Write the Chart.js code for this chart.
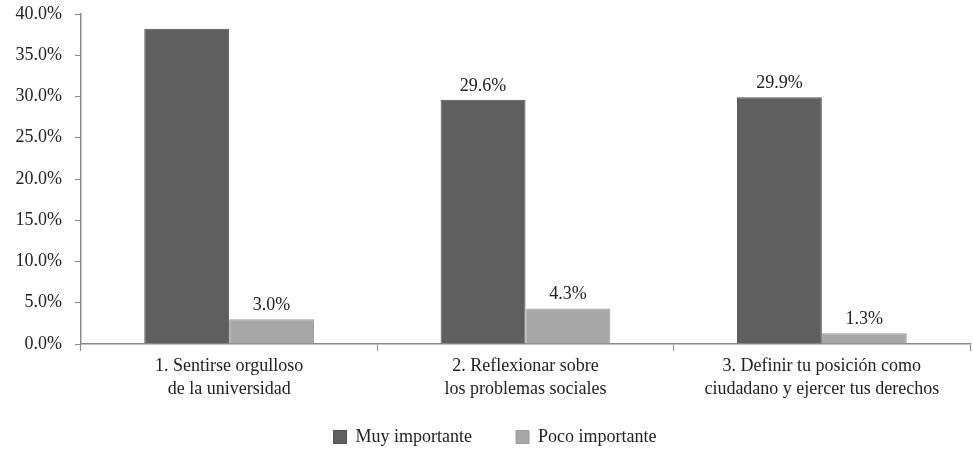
<!DOCTYPE html>
<html>
<head>
<meta charset="utf-8">
<script src="https://cdn.jsdelivr.net/npm/chart.js@4/dist/chart.umd.min.js"></script>
<style>
  html, body { margin: 0; padding: 0; background: #fff; }
  #wrap { width: 973px; height: 456px; position: relative; }
</style>
</head>
<body>
<div id="wrap"><canvas id="chart"></canvas></div>
<script>
const categories = [
  ['1. Sentirse orgulloso', 'de la universidad'],
  ['2. Reflexionar sobre', 'los problemas sociales'],
  ['3. Definir tu posición como', 'ciudadano y ejercer tus derechos']
];
const muyImportante = [38.2, 29.6, 29.9];
const pocoImportante = [3.0, 4.3, 1.3];
// value labels printed above bars (first dark bar has none)
const muyLabels = [null, '29.6%', '29.9%'];
const pocoLabels = ['3.0%', '4.3%', '1.3%'];
const yTicks = [0, 5, 10, 15, 20, 25, 30, 35, 40];

const FONT = '"Liberation Serif", "DejaVu Serif", serif';
const TEXT = '#222';
const AXIS = '#8c8c8c';

const valueLabels = {
  id: 'valueLabels',
  afterDatasetsDraw(chart) {
    const ctx = chart.ctx;
    const sets = [muyLabels, pocoLabels];
    ctx.save();
    ctx.font = '18px ' + FONT;
    ctx.fillStyle = TEXT;
    ctx.textAlign = 'center';
    ctx.textBaseline = 'bottom';
    sets.forEach((labels, di) => {
      chart.getDatasetMeta(di).data.forEach((bar, i) => {
        if (!labels[i]) return;
        ctx.fillText(labels[i], bar.x, bar.y - 5);
      });
    });
    ctx.restore();
  }
};

// wide gaps between legend items, but keep the legend box short
// and move it up under the category labels
const legendPlacement = {
  id: 'legendPlacement',
  afterInit(chart) {
    const legend = chart.legend;
    const fit = legend.fit;
    legend.fit = function () {
      fit.call(this);
      this.height = 38;
    };
  },
  afterLayout(chart) {
    const legend = chart.legend;
    legend.top = 384;
    legend.left += 10;
    legend.right += 10;
  }
};

new Chart(document.getElementById('chart'), {
  type: 'bar',
  data: {
    labels: categories,
    datasets: [
      {
        label: 'Muy importante',
        data: muyImportante,
        backgroundColor: '#5f5f5f',
        borderColor: '#4f4f4f',
        borderWidth: 1,
        categoryPercentage: 0.573,
        barPercentage: 1
      },
      {
        label: 'Poco importante',
        data: pocoImportante,
        backgroundColor: '#a7a7a7',
        borderColor: '#9a9a9a',
        borderWidth: 1,
        categoryPercentage: 0.573,
        barPercentage: 1
      }
    ]
  },
  options: {
    responsive: true,
    maintainAspectRatio: false,
    animation: false,
    layout: { padding: { top: 0, right: 3, left: 0, bottom: 0 } },
    plugins: {
      tooltip: { enabled: false },
      legend: {
        position: 'bottom',
        labels: {
          font: { family: FONT, size: 18 },
          color: TEXT,
          boxWidth: 13,
          boxHeight: 13,
          padding: 44
        }
      }
    },
    scales: {
      x: {
        grid: { display: true, drawOnChartArea: false, tickLength: 7, color: AXIS, offset: true },
        border: { color: AXIS, width: 1.5 },
        ticks: {
          font: { family: FONT, size: 18, lineHeight: 1.28 },
          color: TEXT,
          padding: 4,
          maxRotation: 0
        },
        afterFit(scale) { scale.height = 74; }
      },
      y: {
        min: 0,
        max: 40,
        afterBuildTicks(scale) { scale.ticks = yTicks.map(v => ({ value: v })); },
        grid: { display: true, drawOnChartArea: false, tickLength: 6, color: AXIS },
        border: { color: AXIS, width: 1.5 },
        ticks: {
          font: { family: FONT, size: 18 },
          color: TEXT,
          padding: 13,
          callback: v => v.toFixed(1) + '%'
        },
        afterFit(scale) {
          scale.width = 81;
          scale.paddingTop = 14;
        }
      }
    }
  },
  plugins: [valueLabels, legendPlacement]
});
</script>
</body>
</html>
